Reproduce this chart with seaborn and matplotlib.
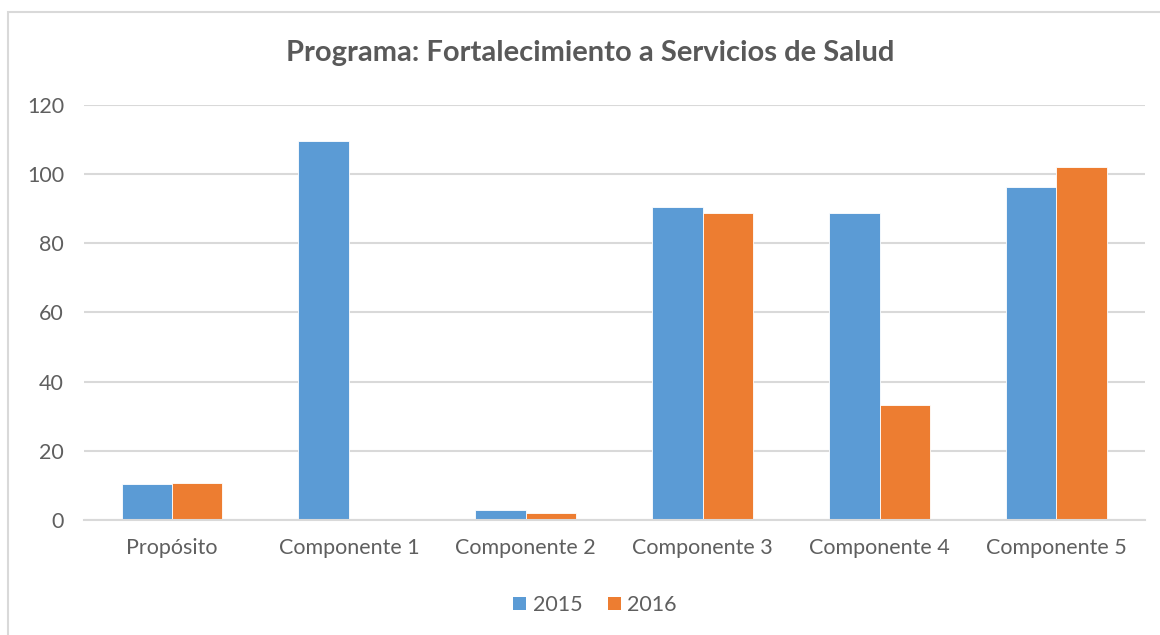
import pandas as pd
import matplotlib.pyplot as plt
import seaborn as sns
from matplotlib.patches import Rectangle, Patch

# values
categorias = ['Propósito', 'Componente 1', 'Componente 2', 'Componente 3', 'Componente 4', 'Componente 5']
valores_2015 = [10.3, 109.4, 2.9, 90.6, 88.7, 96.2]
valores_2016 = [10.7, 0.0, 2.1, 88.7, 33.2, 102.1]
anios = ['2015', '2016']
colores = ['#5B9BD5', '#ED7D31']

data = pd.DataFrame({
    'categoria': categorias * 2,
    'anio': [anios[0]] * len(categorias) + [anios[1]] * len(categorias),
    'valor': valores_2015 + valores_2016,
})

sns.set_style('white')
plt.rcParams['font.family'] = ['Lato', 'DejaVu Sans']

fig = plt.figure(figsize=(11.6, 6.35), dpi=100)
ax = fig.add_axes([0.072, 0.181, 0.915, 0.654])

sns.barplot(data=data, x='categoria', y='valor', hue='anio', palette=colores, saturation=1,
            width=0.57, edgecolor='#FFFFFF', linewidth=0.6, ax=ax, legend=False)

ax.set_ylim(0, 120)
ax.set_yticks(range(0, 121, 20))
ax.yaxis.grid(True, color='#D9D9D9', linewidth=1.5)
ax.set_axisbelow(True)
for s in ['top', 'right', 'left']:
    ax.spines[s].set_visible(False)
ax.spines['bottom'].set_color('#D9D9D9')
ax.spines['bottom'].set_linewidth(1.5)
ax.tick_params(axis='both', length=0, labelsize=15.5, colors='#5F5F5F')
ax.tick_params(axis='x', pad=13)
ax.tick_params(axis='y', pad=14)
ax.set_xlabel('')
ax.set_ylabel('')
ax.set_xlim(-0.5, len(categorias) - 0.5)

fig.text(0.509, 0.917, 'Programa: Fortalecimiento a Servicios de Salud', ha='center', va='center',
         fontsize=21, fontweight='bold', color='#595959')

handles = [Patch(facecolor=c, edgecolor='none') for c in colores]
fig.legend(handles, anios, loc='center', bbox_to_anchor=(0.513, 0.047), ncol=2, frameon=False,
           fontsize=15.5, labelcolor='#5F5F5F', handlelength=0.6, handleheight=0.6,
           handletextpad=0.3, columnspacing=1.2)

# chart frame
fig.patches.append(Rectangle((0.007, -0.05), 1.1, 1.031, transform=fig.transFigure,
                             fill=False, edgecolor='#D9D9D9', linewidth=1.5))

fig.savefig('out.png', dpi=100)
